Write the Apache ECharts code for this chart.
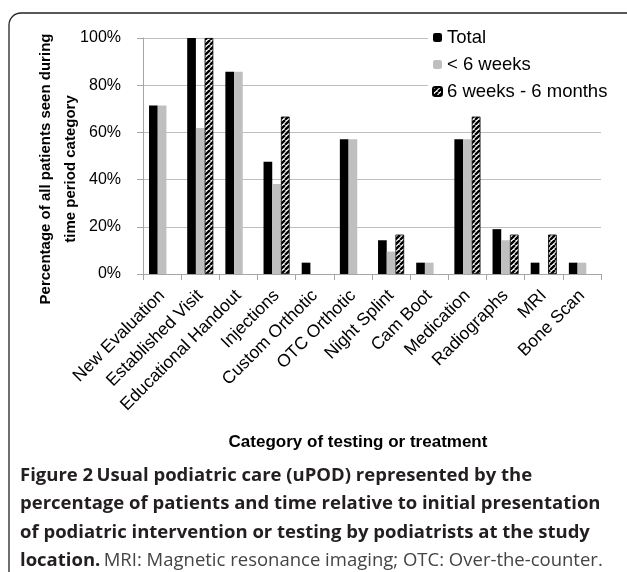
<!DOCTYPE html>
<html><head><meta charset="utf-8">
<script src="https://cdn.jsdelivr.net/npm/echarts@6/dist/echarts.min.js"></script>
<style>html,body{margin:0;padding:0;background:#fff}#c{width:627px;height:572px}</style>
</head><body><div id="c"></div>
<script>
const categories = ['New Evaluation','Established Visit','Educational Handout','Injections','Custom Orthotic','OTC Orthotic','Night Splint','Cam Boot','Medication','Radiographs','MRI','Bone Scan'];
const totalValues = [71.4,100,85.7,47.6,4.8,57.1,14.3,4.8,57.1,19.0,4.8,4.8];
const under6wValues = [71.4,61.9,85.7,38.1,0,57.1,9.5,4.8,57.1,14.3,0,4.8];
const w6to6mValues = [0,100,0,66.7,0,0,16.7,0,66.7,16.7,16.7,0];
const seriesNames = ['Total','< 6 weeks','6 weeks - 6 months'];
const yTicks = [0,20,40,60,80,100];

function hatch(){
  const s = 5;
  const cv = document.createElement('canvas');
  cv.width = s; cv.height = s;
  const g = cv.getContext('2d');
  g.fillStyle = '#fff'; g.fillRect(0,0,s,s);
  g.strokeStyle = '#000'; g.lineWidth = 2.3;
  for (let k=-1;k<=1;k++){
    g.beginPath(); g.moveTo(k*s, s); g.lineTo(k*s+s, 0); g.stroke();
  }
  return {image: cv, repeat: 'repeat'};
}

const chart = echarts.init(document.getElementById('c'), null, {renderer:'canvas'});
const F = 'Liberation Sans, Arial, sans-serif';
const option = {
  animation: false,
  backgroundColor: '#fff',
  textStyle: {fontFamily: F, color: '#000'},
  grid: {left: 143, right: 26, top: 38, bottom: 298},
  legend: {
    orient: 'vertical', left: 428, top: 26, itemWidth: 9, itemHeight: 9, itemGap: 8,
    backgroundColor: '#fff', padding: [2,4,2,4],
    textStyle: {fontFamily: F, fontSize: 18.5, color: '#000', padding: [0,0,0,0]},
    data: seriesNames
  },
  xAxis: {
    type: 'category', data: categories,
    axisLine: {lineStyle: {color: '#a6a6a6'}},
    axisTick: {show: true, length: 6, lineStyle: {color: '#a6a6a6'}},
    axisLabel: {rotate: 45, interval: 0, fontSize: 17.5, color: '#000', fontFamily: F, margin: 19},
    name: 'Category of testing or treatment', nameLocation: 'middle', nameGap: 160,
    nameMoveOverlap: false,
    nameTextStyle: {fontFamily: F, fontSize: 17, fontWeight: 'bold', color: '#000', padding: [0,28,0,0]}
  },
  yAxis: {
    type: 'value', min: 0, max: 100, interval: 20,
    axisLine: {show: true, lineStyle: {color: '#a6a6a6'}},
    axisTick: {show: true, length: 6, lineStyle: {color: '#a6a6a6'}},
    splitLine: {lineStyle: {color: '#bfbfbf'}},
    axisLabel: {fontSize: 16, color: '#000', fontFamily: F, margin: 22,
      formatter: v => yTicks.includes(v) ? v + '%' : ''},
    name: 'Percentage of all patients seen during\ntime period category',
    nameLocation: 'middle', nameRotate: 90, nameGap: 60, nameMoveOverlap: false,
    nameTextStyle: {fontFamily: F, fontSize: 15, fontWeight: 'bold', color: '#000', lineHeight: 25, align: 'center', padding: [0,26,0,0]}
  },
  series: [
    {name: seriesNames[0], type: 'bar', data: totalValues, barWidth: 8.7, barGap: '0%',
     itemStyle: {color: '#000'}},
    {name: seriesNames[1], type: 'bar', data: under6wValues, barWidth: 8.7, barGap: '0%',
     itemStyle: {color: '#bfbfbf'}},
    {name: seriesNames[2], type: 'bar', barWidth: 8.7, barGap: '0%',
     data: w6to6mValues.map(v => v === 0 ? {value: 0, itemStyle: {borderWidth: 0}} : v),
     itemStyle: {color: hatch(), borderColor: '#000', borderWidth: 0.8}}
  ],
  graphic: [
    {type: 'rect', silent: true, shape: {x: 9, y: 13, width: 700, height: 700, r: [12,0,0,0]},
     style: {fill: 'none', stroke: '#222', lineWidth: 1.3}},
    {type: 'text', left: 20, top: 466, silent: true,
     style: {
       text: '{b|Figure 2} {t|Usual podiatric care (uPOD) represented by the}\n{t|percentage of patients and time relative to initial presentation}\n{t|of podiatric intervention or testing by podiatrists at the study}\n{b|location.} {r|MRI: Magnetic resonance imaging; OTC: Over-the-counter.}',
       rich: {
         b: {fontFamily: 'Open Sans', fontWeight: 'bold', fontSize: 18.5, fill: '#231f20', lineHeight: 28.5},
         t: {fontFamily: 'Open Sans', fontWeight: 'bold', fontSize: 18.5, fill: '#231f20', lineHeight: 28.5},
         r: {fontFamily: 'Open Sans', fontWeight: 'normal', fontSize: 18.5, fill: '#444', lineHeight: 28.5}
       }
     }}
  ]
};
chart.setOption(option);
</script></body></html>
